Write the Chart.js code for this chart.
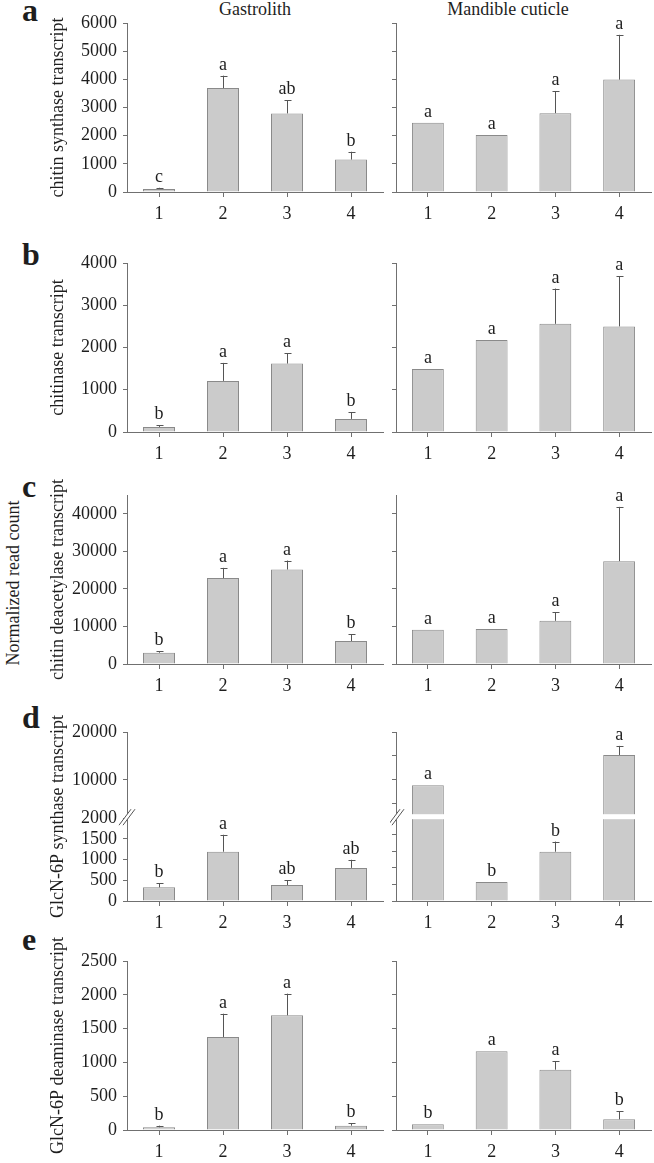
<!DOCTYPE html>
<html>
<head>
<meta charset="utf-8">
<title>Normalized read count</title>
<script src="https://cdn.jsdelivr.net/npm/chart.js@4.4.0/dist/chart.umd.min.js"></script>
<style>
  body { margin: 0; background: #fff; width: 654px; height: 1163px; overflow: hidden; position: relative;
         font-family: "Liberation Serif", "Times New Roman", serif; color: #1e1e1e; }
  canvas { position: absolute; }
  .lbl { position: absolute; white-space: nowrap; }
  .letter { font-weight: bold; font-size: 32px; line-height: 32px; left: 22px; }
  .col { font-size: 18px; line-height: 18px; top: 0px; transform: translateX(-50%); }
</style>
</head>
<body>
<div class="lbl col" style="left:255px">Gastrolith</div>
<div class="lbl col" style="left:508px">Mandible cuticle</div>
<div class="lbl letter" style="top:-6px">a</div>
<div class="lbl letter" style="top:238px">b</div>
<div class="lbl letter" style="top:470px">c</div>
<div class="lbl letter" style="top:701px">d</div>
<div class="lbl letter" style="top:923px">e</div>
<div class="lbl" style="left:13px; top:583px; font-size:18px; transform: translate(-50%,-50%) rotate(-90deg);">Normalized read count</div>

<script>
var cats = ['1', '2', '3', '4'];

// a - chitin synthase
var aGastro = [110, 3690, 2790, 1150];
var aGastroSE = [40, 440, 470, 280];
var aGastroSig = ['c', 'a', 'ab', 'b'];
var aMand = [2460, 2020, 2800, 3990];
var aMandSE = [0, 0, 780, 1590];
var aMandSig = ['a', 'a', 'a', 'a'];
var aTicks = [0, 1000, 2000, 3000, 4000, 5000, 6000];

// b - chitinase
var bGastro = [120, 1210, 1620, 310];
var bGastroSE = [35, 425, 240, 155];
var bGastroSig = ['b', 'a', 'a', 'b'];
var bMand = [1490, 2180, 2560, 2500];
var bMandSE = [0, 0, 835, 1190];
var bMandSig = ['a', 'a', 'a', 'a'];
var bTicks = [0, 1000, 2000, 3000, 4000];

// c - chitin deacetylase
var cGastro = [3000, 22870, 25160, 6120];
var cGastroSE = [460, 2730, 2390, 1860];
var cGastroSig = ['b', 'a', 'a', 'b'];
var cMand = [9120, 9300, 11500, 27390];
var cMandSE = [0, 0, 2220, 14450];
var cMandSig = ['a', 'a', 'a', 'a'];
var cTicks = [0, 10000, 20000, 30000, 40000];

// d - GlcN-6P synthase (broken axis at 2000)
var dGastro = [330, 1190, 385, 800];
var dGastroSE = [100, 410, 120, 195];
var dGastroSig = ['b', 'a', 'ab', 'ab'];
var dMand = [8900, 460, 1190, 15200];
var dMandSE = [0, 0, 245, 1900];
var dMandSig = ['a', 'b', 'b', 'a'];
var dTicksL = [0, 500, 1000, 1500, 2000, 10000, 20000];
var dTicksR = [0, 400, 800, 1200, 1600, 5000, 10000, 15000, 20000];

// e - GlcN-6P deaminase
var eGastro = [40, 1376, 1697, 64];
var eGastroSE = [24, 344, 320, 35];
var eGastroSig = ['b', 'a', 'a', 'b'];
var eMand = [84, 1164, 892, 158];
var eMandSE = [0, 0, 124, 120];
var eMandSig = ['b', 'a', 'a', 'b'];
var eTicks = [0, 500, 1000, 1500, 2000, 2500];

var dBreak = 2000;
var dLowShare = 0.49;

var serif = '"Liberation Serif", "Times New Roman", serif';
var axisCol = '#707070';
var textCol = '#1e1e1e';
var padTop = 30;

class BrokenScale extends Chart.LinearScale {
  getPixelForValue(v) {
    var t = v <= dBreak ? v / dBreak * dLowShare
                        : dLowShare + (v - dBreak) / (this.max - dBreak) * (1 - dLowShare);
    return this.getPixelForDecimal(t);
  }
  getValueForPixel(p) {
    var t = this.getDecimalForPixel(p);
    return t <= dLowShare ? t / dLowShare * dBreak
                          : dBreak + (t - dLowShare) / (1 - dLowShare) * (this.max - dBreak);
  }
}
BrokenScale.id = 'broken';
BrokenScale.defaults = Chart.LinearScale.defaults;
Chart.register(BrokenScale);

// error bars + significance letters
var annotPlugin = {
  id: 'annot',
  afterDatasetsDraw: function(chart) {
    var ds = chart.data.datasets[0];
    var meta = chart.getDatasetMeta(0);
    var ys = chart.scales.y;
    var ctx = chart.ctx;
    ctx.save();
    ctx.strokeStyle = '#555';
    ctx.lineWidth = 1;
    ctx.fillStyle = textCol;
    ctx.font = '18px ' + serif;
    ctx.textAlign = 'center';
    ctx.textBaseline = 'alphabetic';
    meta.data.forEach(function(bar, i) {
      var top = bar.y;
      if (ds.se[i] > 0) {
        var ey = ys.getPixelForValue(ds.data[i] + ds.se[i]);
        var x = Math.round(bar.x) + 0.5;
        ctx.beginPath();
        ctx.moveTo(x, bar.y);
        ctx.lineTo(x, ey);
        ctx.moveTo(x - 3, Math.round(ey) + 0.5);
        ctx.lineTo(x + 4, Math.round(ey) + 0.5);
        ctx.stroke();
        top = ey;
      }
      ctx.fillText(ds.sig[i], bar.x, top - 6);
    });
    ctx.restore();
  }
};

// white gap through tall bars and "//" on the axis, panel d
var breakPlugin = {
  id: 'axisBreak',
  afterDatasetsDraw: function(chart) {
    var ys = chart.scales.y;
    var ctx = chart.ctx;
    var yb = ys.getPixelForValue(dBreak) - 1;
    var meta = chart.getDatasetMeta(0);
    var data = chart.data.datasets[0].data;
    ctx.save();
    ctx.fillStyle = '#fff';
    meta.data.forEach(function(bar, i) {
      if (data[i] > dBreak) {
        ctx.fillRect(bar.x - bar.width / 2 - 1, yb - 3, bar.width + 2, 5);
      }
    });
    var x = chart.chartArea.left;
    ctx.beginPath();
    ctx.moveTo(x - 8, yb + 8);
    ctx.lineTo(x + 4, yb - 8);
    ctx.lineTo(x + 8, yb - 8);
    ctx.lineTo(x - 4, yb + 8);
    ctx.closePath();
    ctx.fill();
    ctx.strokeStyle = '#555';
    ctx.lineWidth = 1;
    ctx.beginPath();
    ctx.moveTo(x - 8, yb + 8);
    ctx.lineTo(x + 4, yb - 8);
    ctx.moveTo(x - 4, yb + 8);
    ctx.lineTo(x + 8, yb - 8);
    ctx.stroke();
    ctx.restore();
  }
};

function panel(isLeft, top, plotH, vals, se, sig, y) {
  var cv = document.createElement('canvas');
  var width = isLeft ? 390 : 264;
  cv.width = width;
  cv.height = padTop + plotH + 32;
  cv.style.left = (isLeft ? 0 : 390) + 'px';
  cv.style.top = (top - padTop) + 'px';
  document.body.appendChild(cv);

  var font = { family: serif, size: 18 };
  var plugins = [annotPlugin];
  if (y.type === 'broken') plugins.unshift(breakPlugin);

  return new Chart(cv, {
    type: 'bar',
    data: {
      labels: cats,
      datasets: [{
        data: vals,
        se: se,
        sig: sig,
        backgroundColor: '#cbcbcb',
        borderColor: '#8a8a8a',
        borderWidth: 1,
        barPercentage: 0.5,
        categoryPercentage: 1
      }]
    },
    options: {
      responsive: false,
      animation: false,
      layout: { padding: { left: isLeft ? 47 : 0, right: isLeft ? 7 : 3, top: padTop, bottom: 0 } },
      plugins: { legend: { display: false }, tooltip: { enabled: false } },
      scales: {
        x: {
          offset: true,
          afterFit: function(s) { s.height = 32; },
          border: { color: axisCol, width: 1 },
          grid: { offset: false, drawOnChartArea: false, tickLength: 5, color: axisCol },
          ticks: { padding: 6, color: textCol, font: font }
        },
        y: {
          type: y.type || 'linear',
          min: 0,
          max: y.max,
          afterBuildTicks: function(s) {
            s.ticks = y.ticks.map(function(v) { return { value: v }; });
          },
          afterFit: function(s) { s.width = isLeft ? 80 : 6; },
          border: { color: axisCol, width: 1 },
          grid: { drawOnChartArea: false, tickLength: 4, color: axisCol },
          ticks: {
            display: isLeft, padding: 6, color: textCol, font: font,
            callback: function(v) { return String(v); }
          },
          title: { display: isLeft, text: y.title, color: textCol, font: font, padding: 0 }
        }
      }
    },
    plugins: plugins
  });
}

panel(true, 22.5, 169.2, aGastro, aGastroSE, aGastroSig, { max: 6000, ticks: aTicks, title: 'chitin synthase transcript' });
panel(false, 22.5, 169.2, aMand, aMandSE, aMandSig, { max: 6000, ticks: aTicks });

panel(true, 263.3, 169, bGastro, bGastroSE, bGastroSig, { max: 4000, ticks: bTicks, title: 'chitinase transcript' });
panel(false, 263.3, 169, bMand, bMandSE, bMandSig, { max: 4000, ticks: bTicks });

panel(true, 495, 169.3, cGastro, cGastroSE, cGastroSig, { max: 45000, ticks: cTicks, title: 'chitin deacetylase transcript' });
panel(false, 495, 169.3, cMand, cMandSE, cMandSig, { max: 45000, ticks: cTicks });

panel(true, 731.7, 169.3, dGastro, dGastroSE, dGastroSig, { type: 'broken', max: 20000, ticks: dTicksL, title: 'GlcN-6P synthase transcript' });
panel(false, 731.7, 169.3, dMand, dMandSE, dMandSig, { type: 'broken', max: 20000, ticks: dTicksR });

panel(true, 961, 169, eGastro, eGastroSE, eGastroSig, { max: 2500, ticks: eTicks, title: 'GlcN-6P deaminase transcript' });
panel(false, 961, 169, eMand, eMandSE, eMandSig, { max: 2500, ticks: eTicks });
</script>
</body>
</html>
